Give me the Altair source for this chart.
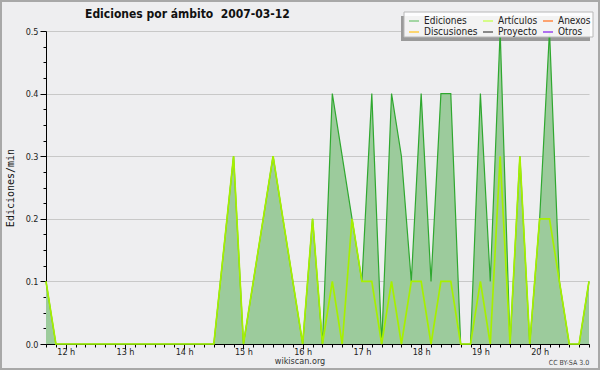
import altair as alt
import pandas as pd

# 10-minute slots from 11:40 to 20:50 (minutes after midnight)
minutos = [700 + 10 * i for i in range(56)]

ediciones = [0.1, 0, 0, 0, 0, 0, 0, 0, 0, 0,
             0, 0, 0, 0, 0, 0, 0, 0, 0.15, 0.3,
             0, 0.1, 0.2, 0.3, 0.2, 0.1, 0, 0.2, 0, 0.4,
             0.3, 0.2, 0.1, 0.4, 0, 0.4, 0.3, 0.1, 0.4, 0.1,
             0.4, 0.4, 0, 0, 0.4, 0.1, 0.5, 0, 0.3, 0,
             0.2, 0.5, 0.1, 0, 0, 0.1]

articulos = [0.1, 0, 0, 0, 0, 0, 0, 0, 0, 0,
             0, 0, 0, 0, 0, 0, 0, 0, 0.15, 0.3,
             0, 0.1, 0.2, 0.3, 0.2, 0.1, 0, 0.2, 0, 0.1,
             0, 0.2, 0.1, 0.1, 0, 0.1, 0, 0.1, 0.1, 0,
             0.1, 0.1, 0, 0, 0.1, 0, 0.3, 0, 0.3, 0,
             0.2, 0.2, 0.1, 0, 0, 0.1]

series = ["Ediciones", "Artículos", "Anexos", "Discusiones", "Proyecto", "Otros"]
series_colors = ["#88cc88", "#ccff66", "#ff8844", "#ffcc44", "#666666", "#9944ee"]

x_ticks = list(range(700, 1251, 10))
y_ticks = [round(i * 0.025, 3) for i in range(21)]

titulo = "Ediciones por ámbito\u00a0 2007-03-12"
FONT = "DejaVu Sans Condensed, Liberation Sans Narrow, DejaVu Sans"

df = pd.DataFrame({"minuto": minutos, "ediciones": ediciones, "articulos": articulos})
df_long = pd.DataFrame({
    "minuto": minutos * 2,
    "valor": ediciones + articulos,
    "serie": ["Ediciones"] * len(minutos) + ["Artículos"] * len(minutos),
})
one = pd.DataFrame({"k": [0]})

xscale = alt.Scale(domain=[700, 1250], nice=False, zero=False)
yscale = alt.Scale(domain=[0, 0.5], nice=False)

MAJ_Y = "abs(datum.value * 10 - round(datum.value * 10)) < 0.001"

x_axis = alt.Axis(
    values=x_ticks,
    labelExpr="datum.value % 60 === 0 ? floor(datum.value / 60) + ' h' : ''",
    title=None, grid=False,
    tickSize={"condition": {"test": "datum.value % 60 === 0", "value": 5}, "value": 3},
    tickColor="black", domainColor="black",
    labelFont=FONT, labelFontSize=9, labelColor="#222",
    labelPadding=-2, labelOverlap=False, labelFlush=False, labelBound=False,
)

y_axis = alt.Axis(
    values=y_ticks,
    format=".1f",
    labelExpr=MAJ_Y + " ? datum.label : ''",
    title="Ediciones/min",
    titleFont="DejaVu Sans Mono", titleFontSize=10, titleFontWeight="normal",
    titleColor="#111", titleX=-36, titleY=156.5, titleAngle=270,
    titleAlign="center", titleBaseline="middle",
    grid=True, gridColor="#c8c8c8",
    gridOpacity={"condition": {"test": MAJ_Y, "value": 1}, "value": 0},
    tickSize={"condition": {"test": MAJ_Y, "value": 6}, "value": 3},
    tickColor="black", domainColor="black",
    labelFont=FONT, labelFontSize=9, labelColor="#222", labelPadding=2,
    labelOverlap=False, labelBound=False, labelFlush=False,
)

def xenc():
    return alt.X("minuto:Q", scale=xscale, axis=x_axis)

def yenc(field):
    return alt.Y(field, scale=yscale, axis=y_axis)

shadow = alt.Chart(one).mark_rect(fill="#9a9a9a").encode(
    x=alt.value(355), x2=alt.value(544), y=alt.value(-15), y2=alt.value(10))

area = alt.Chart(df).mark_area(color="#9ccb9c", opacity=1, interpolate="linear").encode(
    x=xenc(), y=yenc("ediciones:Q"))
line_tot = alt.Chart(df).mark_line(color="#2fa82f", strokeWidth=1.2).encode(
    x=xenc(), y=yenc("ediciones:Q"))
line_art = alt.Chart(df).mark_line(color="#a6f000", strokeWidth=1.7).encode(
    x=xenc(), y=yenc("articulos:Q"))

box = alt.Chart(one).mark_rect(fill="white", fillOpacity=0.88, stroke="#b8b8b8", strokeWidth=1).encode(
    x=alt.value(358), x2=alt.value(547), y=alt.value(-19), y2=alt.value(6))

legend_layer = alt.Chart(df_long).transform_filter("false").mark_line().encode(
    x=xenc(),
    y=yenc("valor:Q"),
    color=alt.Color("serie:N",
                    scale=alt.Scale(domain=series, range=series_colors),
                    legend=alt.Legend(
                        orient="none", legendX=362, legendY=-16,
                        direction="horizontal", columns=3, title=None,
                        symbolType="stroke", symbolSize=100, symbolStrokeWidth=1.5,
                        labelFont=FONT, labelFontSize=10, labelColor="#222",
                        labelOffset=4, columnPadding=2, rowPadding=-2, padding=0,
                    )),
)

title_t = alt.Chart(one).mark_text(
    text=titulo, font=FONT, fontSize=12, fontWeight="bold", color="#111",
    align="left", baseline="alphabetic").encode(x=alt.value(39), y=alt.value(-13))

wiki_t = alt.Chart(one).mark_text(
    text="wikiscan.org", font=FONT, fontSize=9, color="#333",
    align="center", baseline="middle").encode(x=alt.value(254), y=alt.value(330))

cc_t = alt.Chart(one).mark_text(
    text="CC BY-SA 3.0", font=FONT, fontSize=7, color="#444",
    align="center", baseline="middle").encode(x=alt.value(523), y=alt.value(332))

border = alt.Chart(one).mark_rect(filled=False, stroke="#a8a8a8", strokeWidth=2).encode(
    x=alt.value(-45), x2=alt.value(553), y=alt.value(-30), y2=alt.value(338))

chart = alt.layer(
    shadow, area, line_tot, line_art, box, legend_layer, title_t, wiki_t, cc_t, border
).properties(
    width=543, height=313,
    autosize="none",
    padding={"left": 46, "top": 31, "right": 11, "bottom": 26},
    background="#eeeef0",
).configure_view(strokeWidth=0)

chart.save("out.html", embed_options={"renderer": "svg", "actions": False})
